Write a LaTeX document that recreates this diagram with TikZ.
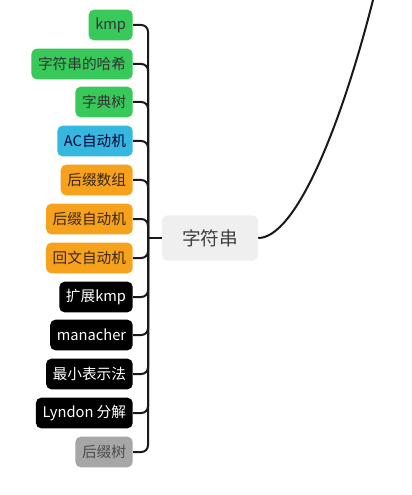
\documentclass[tikz,border=0pt]{standalone}
\usepackage{fontspec}
\setmainfont{Noto Sans CJK SC}
\definecolor{leafgreen}{HTML}{38C95A}
\definecolor{leafblue}{HTML}{36B7E0}
\definecolor{leaforange}{HTML}{F6A21D}
\definecolor{leafgray}{HTML}{A6A6A6}
\definecolor{rootgray}{HTML}{EFEFEF}
\begin{document}
\begin{tikzpicture}[x=0.75pt,y=-0.75pt,
    leaf/.style={rounded corners=4pt,minimum height=23pt,inner xsep=5pt,anchor=east,font=\fontsize{11}{13}\selectfont},
    greenleaf/.style={leaf,fill=leafgreen,text=black!80},
    blueleaf/.style={leaf,fill=leafblue,text=black!80!blue},
    orangeleaf/.style={leaf,fill=leaforange,text=black!70!brown},
    blackleaf/.style={leaf,fill=black,text=white},
    grayleaf/.style={leaf,fill=leafgray,text=black!70},
    link/.style={draw=black!90,line width=1.5pt,rounded corners=5pt}]
    \useasboundingbox (0,0) rectangle (411,495);
    \node[rounded corners=4pt,fill=rootgray,text=black!75,minimum width=72pt,minimum height=34pt,font=\fontsize{14}{16}\selectfont] (str) at (210,238) {字符串};
    \node[greenleaf] (kmp) at (133,25) {kmp};
    \node[greenleaf] (hash) at (133,64) {字符串的哈希};
    \node[greenleaf] (trie) at (133,102) {字典树};
    \node[blueleaf] (ac) at (133,141) {AC自动机};
    \node[orangeleaf] (sa) at (133,180) {后缀数组};
    \node[orangeleaf] (sam) at (133,219) {后缀自动机};
    \node[orangeleaf] (pam) at (133,258) {回文自动机};
    \node[blackleaf] (exkmp) at (133,297) {扩展kmp};
    \node[blackleaf] (manacher) at (133,335) {manacher};
    \node[blackleaf] (minrep) at (133,374) {最小表示法};
    \node[blackleaf] (lyndon) at (133,413) {Lyndon 分解};
    \node[grayleaf] (st) at (133,452) {后缀树};
    \coordinate (bar) at (148,238);
    \coordinate (up) at (373,0);
    \draw[link] (str.west) -- (bar);
    \draw[link] (bar) |- (kmp.east);
    \draw[link] (bar) |- (hash.east);
    \draw[link] (bar) |- (trie.east);
    \draw[link] (bar) |- (ac.east);
    \draw[link] (bar) |- (sa.east);
    \draw[link] (bar) |- (sam.east);
    \draw[link] (bar) |- (pam.east);
    \draw[link] (bar) |- (exkmp.east);
    \draw[link] (bar) |- (manacher.east);
    \draw[link] (bar) |- (minrep.east);
    \draw[link] (bar) |- (lyndon.east);
    \draw[link] (bar) |- (st.east);
    \draw[link] (str.east) .. controls (295,238) and (340,130) .. (up);
\end{tikzpicture}
\end{document}
